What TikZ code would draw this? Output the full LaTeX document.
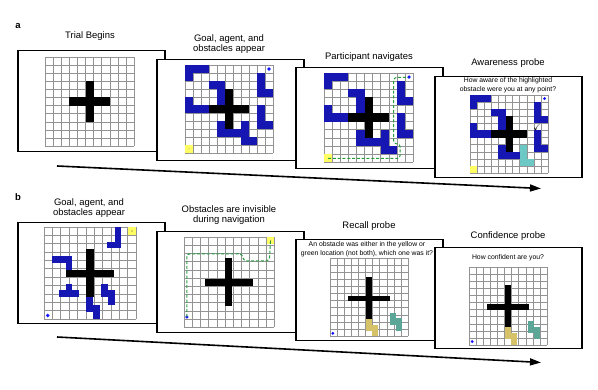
\documentclass[tikz,border=0pt]{standalone}
\usepackage{amssymb}
\usepackage{fontspec}
\setmainfont{Liberation Sans}
\usetikzlibrary{arrows.meta,positioning}

\definecolor{obstblue}{RGB}{22,22,178}
\definecolor{agentyellow}{RGB}{255,255,100}
\definecolor{probeteal}{RGB}{108,200,196}
\definecolor{altteal}{RGB}{92,166,152}
\definecolor{probetan}{RGB}{214,194,104}
\definecolor{pathgreen}{RGB}{38,158,62}
\definecolor{goalblue}{RGB}{20,20,255}

% 11 x 11 maze lines, drawn in cell units
\newcommand{\gridlines}{\foreach \k in {0,...,11} {
    \draw[gridline] (\k,0) -- (\k,11);
    \draw[gridline] (0,\k) -- (11,\k);}}
% obstacles of the first trial
\newcommand{\mazeAcells}{0/0,1/0,2/0,0/1,3/2,4/2,4/3,4/4,0/4,0/5,1/5,2/5,9/1,9/2,9/3,10/3,9/5,9/6,9/7,10/7,4/7,4/8,5/8,6/8}

\begin{document}
\begin{tikzpicture}[x=1pt, y=-1pt,
    every node/.style={inner sep=0pt, align=center},
    title/.style={font=\fontsize{9.45}{10.5}\selectfont},
    prompt/.style={font=\fontsize{6.85}{9}\selectfont},
    panel/.style={font=\fontsize{9.5}{11}\selectfont\bfseries},
    frame/.style={draw, line width=1.5pt, fill=white, minimum width=147pt, minimum height=101pt, anchor=north west},
    gridline/.style={draw=gray!85, line width=0.5pt},
    obst/.style={fill=obstblue},
    wall/.style={fill=black},
    agent/.style={fill=agentyellow},
    goal/.style={fill=goalblue},
    navpath/.style={draw=pathgreen, dash pattern=on 3pt off 1.8pt, line width=1pt, rounded corners=3pt},
    timeline/.style={line width=1.6pt, -{Triangle[length=11pt, width=7pt]}},
]
    \useasboundingbox (0,0) rectangle (598,390);

    % panel a
    \node[panel] (pa) at (18,26) {a};
    \coordinate (ta0) at (57,166);
    \coordinate (ta1) at (541,188.5);
    \draw[timeline] (ta0) -- (ta1);

    \node[title] (t1a) at (90,36) {Trial Begins};
    \node[frame] (f1a) at (17,50) {};
    \begin{scope}[shift={(45,57)}, x=8.1pt, y=-8.1pt]
        \gridlines
        \fill[wall] (5,3) rectangle (6,8);
        \fill[wall] (3,5) rectangle (8,6);
    \end{scope}

    \node[title] (t2a) at (229,44) {Goal, agent, and\\obstacles appear};
    \node[frame] (f2a) at (156,59) {};
    \begin{scope}[shift={(185,65)}, x=8pt, y=-8pt]
        \gridlines
        \foreach \c/\r in \mazeAcells \fill[obst] (\c,\r) rectangle ++(1,1);
        \foreach \c/\r in {7/7,7/8,7/9,8/9} \fill[obst] (\c,\r) rectangle ++(1,1);
        \fill[wall] (5,3) rectangle (6,8);
        \fill[wall] (3,5) rectangle (8,6);
        \fill[agent] (0,10) rectangle (1,11);
        \fill[gray] (0.5,10.5) circle (0.5pt);
        \fill[goal] (10.5,0.5) circle (1.8pt);
    \end{scope}

    \node[title] (t3a) at (369,57) {Participant navigates};
    \node[frame] (f3a) at (295,67) {};
    \begin{scope}[shift={(324,73)}, x=8.1pt, y=-8.1pt]
        \gridlines
        \foreach \c/\r in \mazeAcells \fill[obst] (\c,\r) rectangle ++(1,1);
        \foreach \c/\r in {7/7,7/8,7/9,8/9} \fill[obst] (\c,\r) rectangle ++(1,1);
        \fill[wall] (5,3) rectangle (6,8);
        \fill[wall] (3,5) rectangle (8,6);
        \fill[agent] (0,10) rectangle (1,11);
        \fill[goal] (10.5,0.5) circle (1.8pt);
        \draw[navpath] (0.5,10.55) -- (9.4,10.55) -- (9.4,8.75) -- (8.6,8.75) -- (8.6,0.55) -- (10.4,0.55);
    \end{scope}

    \node[title] (t4a) at (508,63) {Awareness probe};
    \node[frame] (f4a) at (434,76) {};
    \node[prompt] (q4a) at (508,85.5) {How aware of the highlighted\\obstacle were you at any point?};
    \begin{scope}[shift={(470,95)}, x=7.1pt, y=-7.1pt]
        \gridlines
        \foreach \c/\r in \mazeAcells \fill[obst] (\c,\r) rectangle ++(1,1);
        \foreach \c/\r in {7/7,7/8,7/9,8/9} \fill[probeteal] (\c,\r) rectangle ++(1,1);
        \fill[wall] (5,3) rectangle (6,8);
        \fill[wall] (3,5) rectangle (8,6);
        \fill[agent] (0,10) rectangle (1,11);
        \fill[goal] (10.5,0.5) circle (1.6pt);
        \node[font=\fontsize{9}{9}\selectfont] (tick) at (9.45,4.5) {$\checkmark$};
    \end{scope}

    % panel b
    \node[panel] (pb) at (18,197) {b};
    \coordinate (tb0) at (57,337);
    \coordinate (tb1) at (541,362.5);
    \draw[timeline] (tb0) -- (tb1);

    \node[title] (t1b) at (89,208) {Goal, agent, and\\obstacles appear};
    \node[frame] (f1b) at (17,222) {};
    \begin{scope}[shift={(44,227)}, x=8.35pt, y=-8.35pt]
        \gridlines
        \fill[obst] (8.5,0.05) rectangle (9.25,2.5);
        \fill[obst] (7.6,1.75) rectangle (9.25,2.5);
        \fill[obst] (1,3.5) rectangle (3.3,4.3);
        \fill[obst] (2.6,3.5) rectangle (3.3,5.2);
        \fill[obst] (2.6,6.8) rectangle (3.3,7.6);
        \fill[obst] (1.75,7.6) rectangle (4.2,8.4);
        \fill[obst] (5.05,8.4) rectangle (5.9,10.15);
        \fill[obst] (5.9,9.3) rectangle (6.7,11);
        \fill[obst] (6.8,6.8) rectangle (7.7,8.4);
        \fill[obst] (7.7,7.6) rectangle (8.5,9.3);
        \fill[wall] (5.05,2.65) rectangle (5.95,8.4);
        \fill[wall] (2.6,5.1) rectangle (8.4,5.95);
        \fill[agent] (10.1,0.05) rectangle (11,0.9);
        \fill[black!70] (10.55,0.48) circle (0.6pt);
        \fill[goal] (0.45,10.6) circle (1.8pt);
    \end{scope}

    \node[title] (t2b) at (229,215) {Obstacles are invisible\\during navigation};
    \node[frame] (f2b) at (156,231) {};
    \begin{scope}[shift={(184,237)}, x=8.2pt, y=-8.2pt]
        \gridlines
        \fill[wall] (5.05,2.55) rectangle (5.9,8.45);
        \fill[wall] (2.6,5.15) rectangle (8.4,5.95);
        \fill[agent] (10.1,0.05) rectangle (11,0.9);
        \fill[black!70] (10.55,0.48) circle (0.6pt);
        \fill[goal] (0.35,9.75) circle (1.8pt);
        \draw[navpath] (0.35,9.75) -- (0.35,2.05) -- (7.1,2.05) -- (7.25,2.9) -- (10.4,2.9) -- (10.55,0.5);
    \end{scope}

    \node[title] (t3b) at (369,226) {Recall probe};
    \node[frame] (f3b) at (295,239) {};
    \node[prompt] (q3b) at (367,249) {An obstacle was either in the yellow or\\green location (not both), which one was it?};
    \begin{scope}[shift={(330,258)}, x=7.1pt, y=-7.1pt]
        \gridlines
        \fill[wall] (5.0,2.7) rectangle (5.85,8.55);
        \fill[wall] (2.6,5.3) rectangle (8.45,6.1);
        \fill[probetan] (5.0,8.55) rectangle (5.85,10.3);
        \fill[probetan] (5.85,9.4) rectangle (6.7,11);
        \fill[altteal] (8.4,7.7) rectangle (9.3,9.4);
        \fill[altteal] (9.3,8.5) rectangle (10.1,10.3);
        \fill[goal] (0.4,10.6) circle (1.6pt);
    \end{scope}

    \node[title] (t4b) at (508,236) {Confidence probe};
    \node[frame] (f4b) at (434,247) {};
    \node[prompt] (q4b) at (508,258) {How confident are you?};
    \begin{scope}[shift={(469,267)}, x=7.1pt, y=-7.1pt]
        \gridlines
        \fill[wall] (5.0,2.6) rectangle (5.85,8.45);
        \fill[wall] (2.6,5.2) rectangle (8.45,6.0);
        \fill[probetan] (5.0,8.45) rectangle (5.85,10.2);
        \fill[probetan] (5.85,9.3) rectangle (6.7,11);
        \fill[altteal] (8.3,7.6) rectangle (9.2,9.3);
        \fill[altteal] (9.2,8.4) rectangle (10,10.2);
        \fill[goal] (0.45,10.5) circle (1.6pt);
    \end{scope}
\end{tikzpicture}
\end{document}
